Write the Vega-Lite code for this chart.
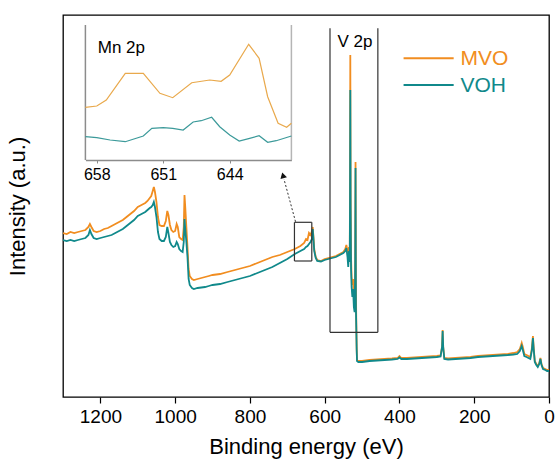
{
  "$schema": "https://vega.github.io/schema/vega-lite/v6.json",
  "width": 486,
  "height": 382,
  "autosize": {"type": "none"},
  "padding": {"left": 63, "top": 15, "right": 7, "bottom": 78},
  "config": {
    "font": "Liberation Sans",
    "view": {"stroke": "#000000", "strokeWidth": 1.3},
    "axis": {"grid": false}
  },
  "datasets": {
    "spec": [
      {"s":"MVO","e":1300,"v":164},{"s":"MVO","e":1290,"v":163},{"s":"MVO","e":1280,"v":165},{"s":"MVO","e":1270,"v":164},{"s":"MVO","e":1260,"v":165},{"s":"MVO","e":1250,"v":166},{"s":"MVO","e":1240,"v":167},{"s":"MVO","e":1232,"v":170},{"s":"MVO","e":1228,"v":173},{"s":"MVO","e":1224,"v":170},{"s":"MVO","e":1218,"v":166},{"s":"MVO","e":1210,"v":165},{"s":"MVO","e":1200,"v":166},{"s":"MVO","e":1190,"v":168},{"s":"MVO","e":1180,"v":169},{"s":"MVO","e":1170,"v":171},{"s":"MVO","e":1160,"v":173},{"s":"MVO","e":1150,"v":175},{"s":"MVO","e":1140,"v":177},{"s":"MVO","e":1130,"v":180},{"s":"MVO","e":1120,"v":183},{"s":"MVO","e":1110,"v":186},{"s":"MVO","e":1100,"v":190},{"s":"MVO","e":1090,"v":192},{"s":"MVO","e":1080,"v":194},{"s":"MVO","e":1074,"v":196},{"s":"MVO","e":1068,"v":199},{"s":"MVO","e":1064,"v":201},{"s":"MVO","e":1060,"v":206},{"s":"MVO","e":1057,"v":210},{"s":"MVO","e":1054,"v":205},{"s":"MVO","e":1050,"v":195},{"s":"MVO","e":1046,"v":180},{"s":"MVO","e":1042,"v":172},{"s":"MVO","e":1036,"v":171},{"s":"MVO","e":1030,"v":171},{"s":"MVO","e":1025,"v":176},{"s":"MVO","e":1021,"v":186},{"s":"MVO","e":1018,"v":182},{"s":"MVO","e":1014,"v":172},{"s":"MVO","e":1010,"v":167},{"s":"MVO","e":1005,"v":165},{"s":"MVO","e":1000,"v":166},{"s":"MVO","e":996,"v":173},{"s":"MVO","e":993,"v":170},{"s":"MVO","e":989,"v":160},{"s":"MVO","e":984,"v":158},{"s":"MVO","e":980,"v":157},{"s":"MVO","e":977,"v":170},{"s":"MVO","e":975,"v":202},{"s":"MVO","e":973,"v":190},{"s":"MVO","e":970,"v":170},{"s":"MVO","e":967,"v":150},{"s":"MVO","e":964,"v":128},{"s":"MVO","e":961,"v":121},{"s":"MVO","e":955,"v":118},{"s":"MVO","e":950,"v":117},{"s":"MVO","e":940,"v":118},{"s":"MVO","e":930,"v":119},{"s":"MVO","e":920,"v":120},{"s":"MVO","e":910,"v":121},{"s":"MVO","e":900,"v":122},{"s":"MVO","e":880,"v":123},{"s":"MVO","e":860,"v":125},{"s":"MVO","e":840,"v":127},{"s":"MVO","e":820,"v":129},{"s":"MVO","e":800,"v":131},{"s":"MVO","e":780,"v":134},{"s":"MVO","e":760,"v":137},{"s":"MVO","e":740,"v":140},{"s":"MVO","e":720,"v":142},{"s":"MVO","e":700,"v":145},{"s":"MVO","e":680,"v":148},{"s":"MVO","e":665,"v":151},{"s":"MVO","e":655,"v":154},{"s":"MVO","e":650,"v":158},{"s":"MVO","e":646,"v":157},{"s":"MVO","e":642,"v":164},{"s":"MVO","e":638,"v":162},{"s":"MVO","e":634,"v":166},{"s":"MVO","e":632,"v":170},{"s":"MVO","e":630,"v":160},{"s":"MVO","e":628,"v":148},{"s":"MVO","e":624,"v":140},{"s":"MVO","e":620,"v":137},{"s":"MVO","e":610,"v":136},{"s":"MVO","e":600,"v":138},{"s":"MVO","e":590,"v":139},{"s":"MVO","e":580,"v":140},{"s":"MVO","e":570,"v":141},{"s":"MVO","e":560,"v":143},{"s":"MVO","e":550,"v":145},{"s":"MVO","e":545,"v":148},{"s":"MVO","e":542,"v":152},{"s":"MVO","e":539,"v":146},{"s":"MVO","e":537,"v":138},{"s":"MVO","e":535,"v":150},{"s":"MVO","e":533,"v":142},{"s":"MVO","e":532.3,"v":200},{"s":"MVO","e":531.5,"v":342},{"s":"MVO","e":530.7,"v":200},{"s":"MVO","e":529.5,"v":140},{"s":"MVO","e":528,"v":120},{"s":"MVO","e":526,"v":112},{"s":"MVO","e":524,"v":118},{"s":"MVO","e":522,"v":100},{"s":"MVO","e":520,"v":95},{"s":"MVO","e":518.5,"v":130},{"s":"MVO","e":517.5,"v":235},{"s":"MVO","e":516.5,"v":110},{"s":"MVO","e":515.5,"v":75},{"s":"MVO","e":514.5,"v":50},{"s":"MVO","e":513.5,"v":37},{"s":"MVO","e":510,"v":36},{"s":"MVO","e":500,"v":36},{"s":"MVO","e":490,"v":36.5},{"s":"MVO","e":480,"v":37},{"s":"MVO","e":460,"v":37.5},{"s":"MVO","e":440,"v":38},{"s":"MVO","e":420,"v":38.5},{"s":"MVO","e":405,"v":39},{"s":"MVO","e":400,"v":41},{"s":"MVO","e":395,"v":39},{"s":"MVO","e":380,"v":39},{"s":"MVO","e":360,"v":39.5},{"s":"MVO","e":340,"v":40},{"s":"MVO","e":320,"v":40.5},{"s":"MVO","e":300,"v":41},{"s":"MVO","e":290,"v":41.5},{"s":"MVO","e":286,"v":50},{"s":"MVO","e":284.5,"v":67},{"s":"MVO","e":283,"v":50},{"s":"MVO","e":280,"v":39},{"s":"MVO","e":270,"v":38.5},{"s":"MVO","e":250,"v":39},{"s":"MVO","e":230,"v":39.5},{"s":"MVO","e":210,"v":40},{"s":"MVO","e":190,"v":41},{"s":"MVO","e":170,"v":41.5},{"s":"MVO","e":150,"v":42},{"s":"MVO","e":130,"v":42.5},{"s":"MVO","e":110,"v":43},{"s":"MVO","e":95,"v":44},{"s":"MVO","e":85,"v":45},{"s":"MVO","e":78,"v":48},{"s":"MVO","e":73,"v":54},{"s":"MVO","e":70,"v":50},{"s":"MVO","e":66,"v":43},{"s":"MVO","e":60,"v":42},{"s":"MVO","e":55,"v":41},{"s":"MVO","e":50,"v":40},{"s":"MVO","e":46,"v":48},{"s":"MVO","e":43,"v":61},{"s":"MVO","e":41,"v":50},{"s":"MVO","e":38,"v":36},{"s":"MVO","e":34,"v":33},{"s":"MVO","e":30,"v":31},{"s":"MVO","e":26,"v":34},{"s":"MVO","e":23,"v":39},{"s":"MVO","e":20,"v":33},{"s":"MVO","e":16,"v":29},{"s":"MVO","e":10,"v":28},{"s":"MVO","e":5,"v":27},{"s":"MVO","e":0,"v":27},
      {"s":"VOH","e":1300,"v":157},{"s":"VOH","e":1290,"v":156},{"s":"VOH","e":1280,"v":157},{"s":"VOH","e":1270,"v":156},{"s":"VOH","e":1260,"v":157},{"s":"VOH","e":1250,"v":158},{"s":"VOH","e":1240,"v":159},{"s":"VOH","e":1232,"v":162},{"s":"VOH","e":1228,"v":167},{"s":"VOH","e":1224,"v":163},{"s":"VOH","e":1218,"v":159},{"s":"VOH","e":1210,"v":158},{"s":"VOH","e":1200,"v":159},{"s":"VOH","e":1190,"v":160},{"s":"VOH","e":1180,"v":161},{"s":"VOH","e":1170,"v":162},{"s":"VOH","e":1160,"v":164},{"s":"VOH","e":1150,"v":166},{"s":"VOH","e":1140,"v":168},{"s":"VOH","e":1130,"v":171},{"s":"VOH","e":1120,"v":174},{"s":"VOH","e":1110,"v":177},{"s":"VOH","e":1100,"v":181},{"s":"VOH","e":1090,"v":183},{"s":"VOH","e":1080,"v":185},{"s":"VOH","e":1074,"v":187},{"s":"VOH","e":1068,"v":189},{"s":"VOH","e":1064,"v":190},{"s":"VOH","e":1060,"v":192},{"s":"VOH","e":1057,"v":195},{"s":"VOH","e":1054,"v":190},{"s":"VOH","e":1050,"v":180},{"s":"VOH","e":1046,"v":165},{"s":"VOH","e":1042,"v":158},{"s":"VOH","e":1036,"v":156},{"s":"VOH","e":1030,"v":156},{"s":"VOH","e":1025,"v":160},{"s":"VOH","e":1021,"v":170},{"s":"VOH","e":1018,"v":164},{"s":"VOH","e":1014,"v":155},{"s":"VOH","e":1010,"v":152},{"s":"VOH","e":1005,"v":150},{"s":"VOH","e":1000,"v":151},{"s":"VOH","e":996,"v":155},{"s":"VOH","e":993,"v":153},{"s":"VOH","e":989,"v":148},{"s":"VOH","e":984,"v":146},{"s":"VOH","e":980,"v":145},{"s":"VOH","e":977,"v":155},{"s":"VOH","e":975,"v":178},{"s":"VOH","e":973,"v":168},{"s":"VOH","e":970,"v":155},{"s":"VOH","e":967,"v":140},{"s":"VOH","e":964,"v":118},{"s":"VOH","e":961,"v":112},{"s":"VOH","e":955,"v":109},{"s":"VOH","e":950,"v":108},{"s":"VOH","e":940,"v":109},{"s":"VOH","e":930,"v":109.5},{"s":"VOH","e":920,"v":110},{"s":"VOH","e":910,"v":111},{"s":"VOH","e":900,"v":112},{"s":"VOH","e":880,"v":113},{"s":"VOH","e":860,"v":115},{"s":"VOH","e":840,"v":117},{"s":"VOH","e":820,"v":119},{"s":"VOH","e":800,"v":121},{"s":"VOH","e":780,"v":124},{"s":"VOH","e":760,"v":127},{"s":"VOH","e":740,"v":130},{"s":"VOH","e":720,"v":134},{"s":"VOH","e":700,"v":138},{"s":"VOH","e":680,"v":143},{"s":"VOH","e":665,"v":146},{"s":"VOH","e":655,"v":148},{"s":"VOH","e":650,"v":150},{"s":"VOH","e":646,"v":151},{"s":"VOH","e":642,"v":153},{"s":"VOH","e":638,"v":155},{"s":"VOH","e":634,"v":158},{"s":"VOH","e":632,"v":168},{"s":"VOH","e":630,"v":158},{"s":"VOH","e":628,"v":146},{"s":"VOH","e":624,"v":139},{"s":"VOH","e":620,"v":136},{"s":"VOH","e":610,"v":135.5},{"s":"VOH","e":600,"v":137},{"s":"VOH","e":590,"v":138},{"s":"VOH","e":580,"v":139},{"s":"VOH","e":570,"v":140},{"s":"VOH","e":560,"v":142},{"s":"VOH","e":550,"v":144},{"s":"VOH","e":545,"v":146},{"s":"VOH","e":542,"v":149},{"s":"VOH","e":539,"v":140},{"s":"VOH","e":537,"v":130},{"s":"VOH","e":535,"v":146},{"s":"VOH","e":533,"v":135},{"s":"VOH","e":532.3,"v":190},{"s":"VOH","e":531.5,"v":307},{"s":"VOH","e":530.7,"v":190},{"s":"VOH","e":529.5,"v":128},{"s":"VOH","e":528,"v":110},{"s":"VOH","e":526,"v":100},{"s":"VOH","e":524,"v":108},{"s":"VOH","e":522,"v":90},{"s":"VOH","e":520,"v":85},{"s":"VOH","e":518.5,"v":120},{"s":"VOH","e":517.5,"v":229},{"s":"VOH","e":516.5,"v":90},{"s":"VOH","e":515.5,"v":70},{"s":"VOH","e":514.5,"v":48},{"s":"VOH","e":513.5,"v":36},{"s":"VOH","e":510,"v":35},{"s":"VOH","e":500,"v":35},{"s":"VOH","e":490,"v":35.5},{"s":"VOH","e":480,"v":36},{"s":"VOH","e":460,"v":36.5},{"s":"VOH","e":440,"v":37},{"s":"VOH","e":420,"v":37.5},{"s":"VOH","e":405,"v":38},{"s":"VOH","e":400,"v":39.5},{"s":"VOH","e":395,"v":38},{"s":"VOH","e":380,"v":38},{"s":"VOH","e":360,"v":38.5},{"s":"VOH","e":340,"v":39},{"s":"VOH","e":320,"v":39.5},{"s":"VOH","e":300,"v":40},{"s":"VOH","e":290,"v":40.5},{"s":"VOH","e":286,"v":50},{"s":"VOH","e":284.5,"v":66},{"s":"VOH","e":283,"v":50},{"s":"VOH","e":280,"v":38},{"s":"VOH","e":270,"v":37.5},{"s":"VOH","e":250,"v":38},{"s":"VOH","e":230,"v":38.5},{"s":"VOH","e":210,"v":39},{"s":"VOH","e":190,"v":40},{"s":"VOH","e":170,"v":40.5},{"s":"VOH","e":150,"v":41},{"s":"VOH","e":130,"v":41.5},{"s":"VOH","e":110,"v":42},{"s":"VOH","e":95,"v":42.5},{"s":"VOH","e":85,"v":43},{"s":"VOH","e":78,"v":46},{"s":"VOH","e":73,"v":51},{"s":"VOH","e":70,"v":47},{"s":"VOH","e":66,"v":41},{"s":"VOH","e":60,"v":40},{"s":"VOH","e":55,"v":39},{"s":"VOH","e":50,"v":38},{"s":"VOH","e":46,"v":46},{"s":"VOH","e":43,"v":59},{"s":"VOH","e":41,"v":48},{"s":"VOH","e":38,"v":35},{"s":"VOH","e":34,"v":32},{"s":"VOH","e":30,"v":30},{"s":"VOH","e":26,"v":33},{"s":"VOH","e":23,"v":38},{"s":"VOH","e":20,"v":32},{"s":"VOH","e":16,"v":28},{"s":"VOH","e":10,"v":27},{"s":"VOH","e":5,"v":26},{"s":"VOH","e":0,"v":26}
    ],
    "inset": [
      {"s":"MVO","e":659.2,"v":52.7},{"s":"MVO","e":658,"v":54},{"s":"MVO","e":657,"v":60},{"s":"MVO","e":655,"v":86.7},{"s":"MVO","e":653.1,"v":86.7},{"s":"MVO","e":651.35,"v":66.7},{"s":"MVO","e":650,"v":62.3},{"s":"MVO","e":648,"v":77.3},{"s":"MVO","e":646.1,"v":80},{"s":"MVO","e":644.9,"v":78.7},{"s":"MVO","e":644,"v":85},{"s":"MVO","e":642,"v":115.7},{"s":"MVO","e":640.9,"v":101.7},{"s":"MVO","e":640,"v":63.3},{"s":"MVO","e":638.9,"v":36.7},{"s":"MVO","e":638,"v":32.7},{"s":"MVO","e":637.5,"v":36.7},
      {"s":"VOH","e":659.2,"v":23.3},{"s":"VOH","e":658,"v":22.3},{"s":"VOH","e":656.6,"v":20},{"s":"VOH","e":655,"v":18.3},{"s":"VOH","e":653.1,"v":24},{"s":"VOH","e":652.2,"v":31.7},{"s":"VOH","e":651,"v":32.3},{"s":"VOH","e":650,"v":31.7},{"s":"VOH","e":648.9,"v":30},{"s":"VOH","e":647.85,"v":38},{"s":"VOH","e":647,"v":39.3},{"s":"VOH","e":645.9,"v":42.7},{"s":"VOH","e":645.05,"v":33.3},{"s":"VOH","e":644,"v":25},{"s":"VOH","e":643,"v":19},{"s":"VOH","e":641.9,"v":21.7},{"s":"VOH","e":640.9,"v":24.3},{"s":"VOH","e":640,"v":17.7},{"s":"VOH","e":639.1,"v":19.3},{"s":"VOH","e":637.5,"v":24}
    ],
    "boxes": [
      {"e":585.8,"e2":585.8,"v":368.7,"v2":64.7},
      {"e":457.8,"e2":457.8,"v":368.7,"v2":64.7},
      {"e":585.8,"e2":457.8,"v":64.7,"v2":64.7},
      {"e":680.9,"e2":634.5,"v":174.7,"v2":174.7},
      {"e":680.9,"e2":634.5,"v":136,"v2":136},
      {"e":680.9,"e2":680.9,"v":174.7,"v2":136},
      {"e":634.5,"e2":634.5,"v":174.7,"v2":136}
    ],
    "arrow": [
      {"e":678,"e2":709,"v":175.3,"v2":218}
    ],
    "head": [
      {"e":711.6,"v":221.6}
    ],
    "legend": [
      {"s":"MVO","e":389,"e2":255,"t":237,"v":338.7},
      {"s":"VOH","e":389,"e2":255,"t":237,"v":312}
    ],
    "labels": [
      {"e":565.7,"v":350,"label":"V 2p"}
    ],
    "insetFrame": [
      {"e":659.2,"v":0,"v2":135,"c":"left"},
      {"e":637.5,"v":0,"v2":135,"c":"right"}
    ],
    "insetLabel": [
      {"e":657.9,"v":106.7,"label":"Mn 2p"}
    ]
  },
  "layer": [
    {
      "layer": [
        {
          "data": {"name": "spec"},
          "mark": {"type": "line", "strokeWidth": 1.8, "clip": true},
          "encoding": {
            "x": {"field": "e", "type": "quantitative",
              "scale": {"domain": [0, 1300], "reverse": true, "nice": false, "zero": false},
              "title": "Binding energy (eV)",
              "axis": {
                "values": [1300,1200,1100,1000,900,800,700,600,500,400,300,200,100,0],
                "format": "d",
                "labelExpr": "datum.value % 200 === 0 ? datum.label : ''",
                "tickSize": {"condition": {"test": "datum.value % 200 === 0", "value": 6}, "value": 3},
                "tickColor": "#000000",
                "tickWidth": 1.2,
                "domain": false,
                "labelFontSize": 19,
                "labelColor": "#000000",
                "labelPadding": 4,
                "labelFlush": false,
                "titleFontSize": 22,
                "titleFontWeight": "normal",
                "titleColor": "#000000",
                "titlePadding": 10
              }
            },
            "y": {"field": "v", "type": "quantitative",
              "scale": {"domain": [0, 382], "nice": false},
              "title": "Intensity (a.u.)",
              "axis": {
                "labels": false, "ticks": false, "domain": false,
                "titleFontSize": 22, "titleFontWeight": "normal", "titleColor": "#000000",
                "titlePadding": 34
              }
            },
            "color": {"field": "s", "type": "nominal",
              "scale": {"domain": ["MVO", "VOH"], "range": ["#F18D20", "#10898B"]},
              "legend": null}
          }
        },
        {
          "data": {"name": "boxes"},
          "mark": {"type": "rule", "color": "#333333", "strokeWidth": 1.2},
          "encoding": {
            "x": {"field": "e", "type": "quantitative", "title": "Binding energy (eV)"},
            "x2": {"field": "e2"},
            "y": {"field": "v", "type": "quantitative", "title": "Intensity (a.u.)"},
            "y2": {"field": "v2"}
          }
        },
        {
          "data": {"name": "arrow"},
          "mark": {"type": "rule", "color": "#333333", "strokeWidth": 1, "strokeDash": [2, 2]},
          "encoding": {
            "x": {"field": "e", "type": "quantitative", "title": "Binding energy (eV)"},
            "x2": {"field": "e2"},
            "y": {"field": "v", "type": "quantitative", "title": "Intensity (a.u.)"},
            "y2": {"field": "v2"}
          }
        },
        {
          "data": {"name": "head"},
          "mark": {"type": "point", "shape": "triangle-up", "filled": true, "color": "#111111", "size": 45, "angle": 345, "opacity": 1},
          "encoding": {
            "x": {"field": "e", "type": "quantitative", "title": "Binding energy (eV)"},
            "y": {"field": "v", "type": "quantitative", "title": "Intensity (a.u.)"}
          }
        },
        {
          "data": {"name": "legend"},
          "mark": {"type": "rule", "strokeWidth": 2},
          "encoding": {
            "x": {"field": "e", "type": "quantitative", "title": "Binding energy (eV)"},
            "x2": {"field": "e2"},
            "y": {"field": "v", "type": "quantitative", "title": "Intensity (a.u.)"},
            "color": {"field": "s", "type": "nominal", "legend": null}
          }
        },
        {
          "data": {"name": "legend"},
          "mark": {"type": "text", "align": "left", "baseline": "middle", "fontSize": 21, "dy": 1},
          "encoding": {
            "x": {"field": "t", "type": "quantitative", "title": "Binding energy (eV)"},
            "y": {"field": "v", "type": "quantitative", "title": "Intensity (a.u.)"},
            "text": {"field": "s"},
            "color": {"field": "s", "type": "nominal", "legend": null}
          }
        },
        {
          "data": {"name": "labels"},
          "mark": {"type": "text", "align": "left", "baseline": "alphabetic", "fontSize": 17, "color": "#000000"},
          "encoding": {
            "x": {"field": "e", "type": "quantitative", "title": "Binding energy (eV)"},
            "y": {"field": "v", "type": "quantitative", "title": "Intensity (a.u.)"},
            "text": {"field": "label"}
          }
        }
      ]
    },
    {
      "layer": [
        {
          "data": {"name": "insetFrame"},
          "mark": {"type": "rule", "strokeWidth": 1.5},
          "encoding": {
            "x": {"field": "e", "type": "quantitative",
              "scale": {"domain": [659.2, 637.5], "range": [22.4, 228.4], "nice": false, "zero": false},
              "axis": {
                "orient": "bottom",
                "offset": -237,
                "values": [658, 651, 644],
                "title": null,
                "domainColor": "#8c8c8c",
                "domainWidth": 1.5,
                "tickSize": 3,
                "tickColor": "#8c8c8c",
                "labelFontSize": 16,
                "labelColor": "#000000",
                "labelPadding": 3
              }
            },
            "y": {"field": "v", "type": "quantitative",
              "scale": {"domain": [0, 135], "range": [145, 10], "nice": false, "zero": false},
              "axis": null},
            "y2": {"field": "v2"},
            "color": {"field": "c", "type": "nominal",
              "scale": {"domain": ["left", "right", "MVO", "VOH"], "range": ["#8c8c8c", "#b5b5b5", "#E9A94C", "#3C9A9A"]},
              "legend": null}
          }
        },
        {
          "data": {"name": "inset"},
          "mark": {"type": "line", "strokeWidth": 1.2},
          "encoding": {
            "x": {"field": "e", "type": "quantitative"},
            "y": {"field": "v", "type": "quantitative"},
            "color": {"field": "s", "type": "nominal", "legend": null}
          }
        },
        {
          "data": {"name": "insetLabel"},
          "mark": {"type": "text", "align": "left", "baseline": "alphabetic", "fontSize": 17, "color": "#000000"},
          "encoding": {
            "x": {"field": "e", "type": "quantitative"},
            "y": {"field": "v", "type": "quantitative"},
            "text": {"field": "label"}
          }
        }
      ]
    }
  ],
  "resolve": {"scale": {"x": "independent", "y": "independent", "color": "independent"}, "axis": {"x": "independent", "y": "independent"}}
}
